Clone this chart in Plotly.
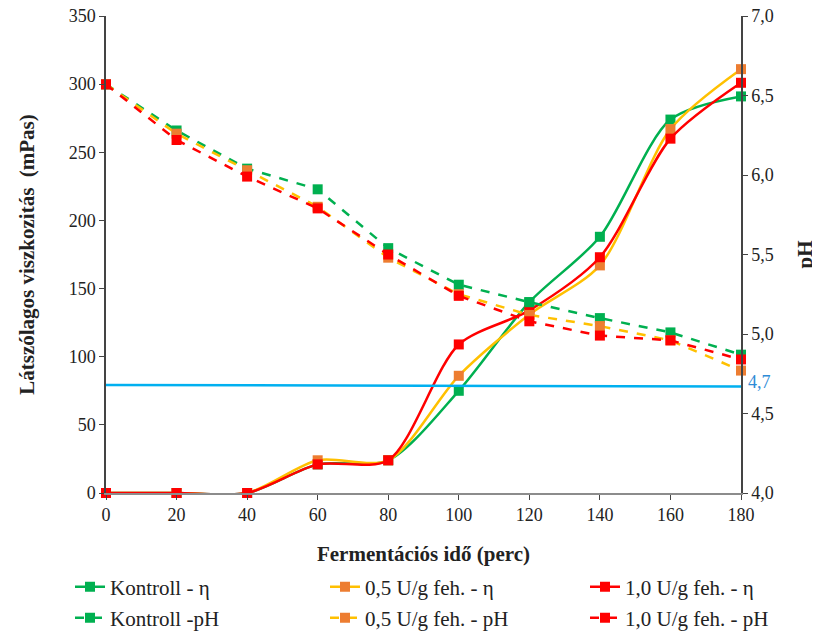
import plotly.graph_objects as go

time_min = [0, 20, 40, 60, 80, 100, 120, 140, 160, 180]

visc_kontroll = [0, 0, 0, 21, 24, 75, 140, 188, 274, 291]
visc_05 = [0, 0, 0, 24, 24, 86, 131, 167, 267, 311]
visc_10 = [0, 0, 0, 21, 24, 109, 134, 173, 260, 301]

ph_kontroll = [6.57, 6.28, 6.04, 5.91, 5.54, 5.31, 5.20, 5.10, 5.01, 4.87]
ph_05 = [6.57, 6.26, 6.03, 5.80, 5.48, 5.25, 5.12, 5.05, 4.96, 4.77]
ph_10 = [6.57, 6.22, 5.99, 5.79, 5.50, 5.24, 5.08, 4.99, 4.96, 4.84]

ph_limit_x = [0, 180]
ph_limit = [4.68, 4.67]

names_visc = ["Kontroll - η", "0,5 U/g feh. - η", "1,0 U/g feh. - η"]
names_ph = ["Kontroll -pH", "0,5 U/g feh. - pH", "1,0 U/g feh. - pH"]

line_colors = ["#00B050", "#FFC000", "#FF0000"]
marker_colors = ["#00B050", "#ED7D31", "#FF0000"]

FONT = "Times New Roman"
TXT = "#222222"

# legend slots: one legend per entry (3 columns x 2 rows)
col_x = [62 / 820, 317 / 820, 577 / 820]
row_y = [1 - 579 / 631, 1 - 610 / 631]

fig = go.Figure()

# pH limit line
fig.add_trace(go.Scatter(x=ph_limit_x, y=ph_limit, yaxis="y2", mode="lines",
                         line=dict(color="#00B0F0", width=2.5), showlegend=False,
                         hoverinfo="skip"))

legend_layout = {}
k = 0
for row, (names, series, axis, dash, shape) in enumerate([
        (names_visc, [visc_kontroll, visc_05, visc_10], "y", "solid", "spline"),
        (names_ph, [ph_kontroll, ph_05, ph_10], "y2", "dash", "linear")]):
    for col, (name, ys, lc, mc) in enumerate(zip(names, series, line_colors, marker_colors)):
        k += 1
        lname = "legend" if k == 1 else f"legend{k}"
        line = dict(color=lc, width=2.5, dash=dash, shape=shape)
        if shape == "spline":
            line["smoothing"] = 0.8
        fig.add_trace(go.Scatter(x=time_min, y=ys, name=name, yaxis=axis, mode="lines+markers",
                                 line=line,
                                 marker=dict(symbol="square", size=10, color=mc),
                                 cliponaxis=False, legend=lname))
        legend_layout[lname] = dict(orientation="h", xref="container", xanchor="left", x=col_x[col],
                                    yref="container", yanchor="middle", y=row_y[row],
                                    font=dict(family=FONT, size=21, color=TXT),
                                    bgcolor="rgba(0,0,0,0)")

fig.add_annotation(x=1, xref="paper", xanchor="left", xshift=5, y=4.7, yref="y2",
                   text="4,7", showarrow=False, font=dict(family=FONT, size=18, color="#2E8BD6"))

tick_font = dict(family=FONT, size=18, color=TXT)
title_font = dict(family=FONT, size=21, color=TXT)

fig.update_layout(
    width=820, height=631,
    margin=dict(l=98, r=87, t=8, b=146, autoexpand=False),
    plot_bgcolor="white", paper_bgcolor="white",
    separators=", ",
    font=dict(family=FONT, size=18, color=TXT),
    xaxis=dict(range=[0, 180], tickvals=time_min, ticks="outside", ticklen=5,
               showline=True, linecolor="#8c8c8c", linewidth=1.5, showgrid=False, zeroline=False,
               title=dict(text="<b>Fermentációs idő (perc)</b>", font=title_font, standoff=25),
               tickfont=tick_font, ticklabeloverflow="allow"),
    yaxis=dict(range=[0, 350], dtick=50, ticks="outside", ticklen=5,
               showline=True, linecolor="#444444", linewidth=1.5, showgrid=False, zeroline=False,
               title=dict(text="<b>Látszólagos viszkozitás  (mPas)</b>", font=title_font, standoff=28),
               tickfont=tick_font, ticklabeloverflow="allow"),
    yaxis2=dict(range=[4.0, 7.0], dtick=0.5, tickformat=".1f", overlaying="y", side="right",
                ticks="outside", ticklen=5, showline=True, linecolor="#444444", linewidth=1.5,
                showgrid=False, zeroline=False,
                title=dict(text="<b>pH</b>", font=title_font, standoff=24),
                tickfont=tick_font, ticklabeloverflow="allow"),
    showlegend=True,
    **legend_layout,
)

fig.write_html("out.html")
